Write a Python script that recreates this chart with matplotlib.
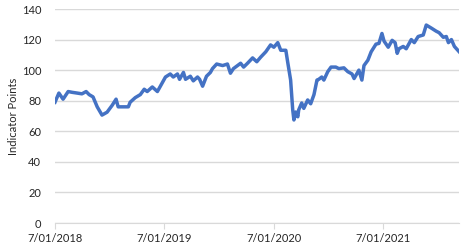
import matplotlib
matplotlib.use("Agg")
import matplotlib.pyplot as plt
import matplotlib.dates as mdates
import pandas as pd

dates = ["2018-07-01","2018-07-14","2018-07-28","2018-08-14","2018-08-27","2018-09-13","2018-09-29",
         "2018-10-13","2018-10-23","2018-11-05","2018-11-19","2018-12-05","2018-12-22","2019-01-08",
         "2019-01-21","2019-01-28","2019-02-11","2019-03-03","2019-03-09","2019-03-26","2019-04-12",
         "2019-04-25","2019-05-05","2019-05-22","2019-06-08","2019-06-18","2019-07-05","2019-07-21",
         "2019-07-31","2019-08-14","2019-08-21","2019-09-03","2019-09-10","2019-09-26","2019-10-06",
         "2019-10-20","2019-10-27","2019-11-06","2019-11-19","2019-12-02","2019-12-09","2019-12-23",
         "2020-01-12","2020-01-28","2020-02-07","2020-02-17","2020-03-12","2020-03-22","2020-04-04",
         "2020-04-21","2020-05-05","2020-05-18","2020-06-04","2020-06-20","2020-07-01","2020-07-14",
         "2020-07-24","2020-08-10","2020-08-16","2020-08-26","2020-09-02","2020-09-06","2020-09-12",
         "2020-09-19","2020-09-22","2020-10-02","2020-10-09","2020-10-22","2020-11-01","2020-11-12",
         "2020-11-22","2020-11-28","2020-12-08","2020-12-15","2020-12-28","2021-01-08","2021-01-24",
         "2021-02-03","2021-02-20","2021-03-05","2021-03-19","2021-03-26","2021-04-11","2021-04-21",
         "2021-04-28","2021-05-11","2021-05-22","2021-06-07","2021-06-17","2021-06-27","2021-07-04",
         "2021-07-18","2021-07-31","2021-08-10","2021-08-17","2021-08-23","2021-09-06","2021-09-16",
         "2021-10-03","2021-10-13","2021-10-26","2021-11-12","2021-11-22","2021-12-09","2021-12-25",
         "2022-01-04","2022-01-18","2022-01-28","2022-02-04","2022-02-14","2022-02-24","2022-03-12"]
values = [79,85,81,86,85.5,85,84.5,
          86,84,82.5,76,70.6,72.5,77,
          81,76,76,76,79,82,84,
          87.5,86,89,86,89.5,95.5,97.5,
          95.5,97.5,94,98.5,94,96,93,
          95.5,94,89.5,96,98.5,101,104,
          103,104,98,101,104.5,102,104.5,
          108,105.5,108.5,112,116.5,115,118,
          113,113,105.5,93.5,74,67.4,72.6,
          69.5,74,78.5,75,80.5,78,84,
          93.5,94,95.5,93.5,99,102,102,
          101,101.5,99,97.5,94.5,100,93.5,
          103,106.5,112,117,117.5,124,119,
          115,119.5,118,111,114,115.5,114,
          120,118,122,123,129.5,127.5,125.5,
          124.5,121.5,122,118,120,115.5,112]
tick_dates = ["2018-07-01","2019-07-01","2020-07-01","2021-07-01"]
tick_labels = ["7/01/2018","7/01/2019","7/01/2020","7/01/2021"]
y_ticks = [0,20,40,60,80,100,120,140]
y_label = "Indicator Points"

plt.rcParams['font.family'] = ['Lato', 'DejaVu Sans']
x = pd.to_datetime(dates)
fig = plt.figure(figsize=(4.7, 2.5), dpi=100)
ax = fig.add_axes([0.117, 0.108, 0.86, 0.856])
ax.plot(x, values, color="#4472C4", lw=2.5, solid_joinstyle="round")
ax.set_ylim(0, 140)
ax.set_xlim(x[0], x[-1])
ax.set_yticks(y_ticks)
ax.set_xticks(pd.to_datetime(tick_dates))
ax.set_xticklabels(tick_labels)
ax.grid(axis="y", color="#d9d9d9", lw=1)
ax.set_axisbelow(True)
for s in ["top", "right", "left"]:
    ax.spines[s].set_visible(False)
ax.spines["bottom"].set_color("#d9d9d9")
ax.tick_params(axis="y", length=0, labelsize=8, labelcolor="#262626", pad=10)
ax.tick_params(axis="x", length=4, color="#d9d9d9", labelsize=8, labelcolor="#262626", pad=3)
ax.set_ylabel(y_label, fontsize=8, color="#262626")
ax.yaxis.set_label_coords(-0.088, 0.5)
fig.savefig("out.png", dpi=100)
